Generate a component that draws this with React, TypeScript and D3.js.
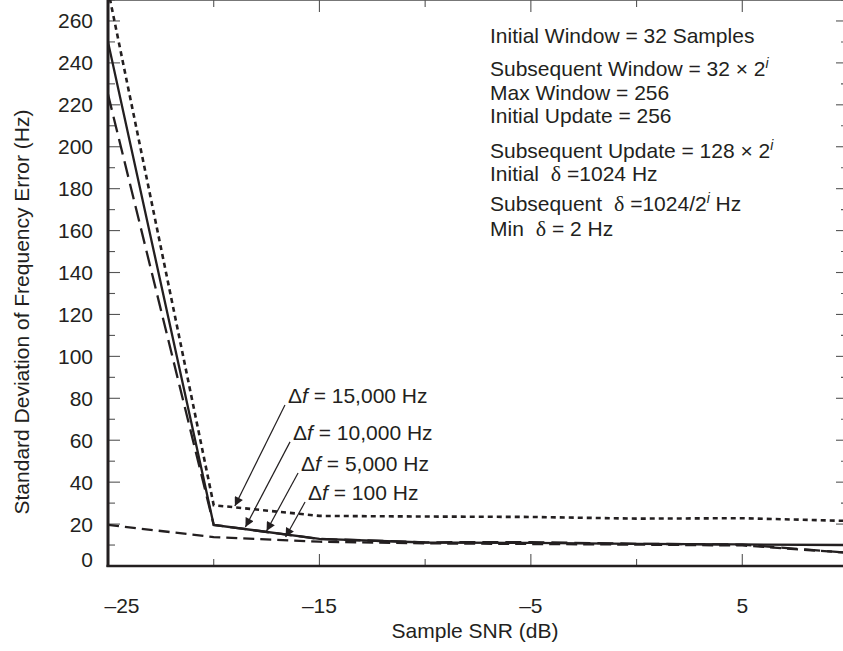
import * as d3 from "d3";

// sample SNR (dB) and the std. deviation of the frequency error (Hz) per frequency offset
const snr = [-25, -20, -15, -10, -5, 0, 5, 10];
const df15000 = [275, 29, 23.9, 23.6, 23.4, 22.6, 22.8, 21.5];
const df10000 = [250, 19.6, 12.9, 11.2, 11, 10.6, 10.3, 10];
const df5000 = [225, 19.6, 12.9, 11.3, 11.4, 10.6, 10.2, 6.3];
const df100 = [19.6, 13.8, 11.6, 10.8, 10.5, 10.2, 9.8, 6.3];

const xLabelTicks = [-25, -15, -5, 5];
const xMinorTicks = [-20, -10, 0, 10];
const yLabelTicks = d3.range(0, 261, 20);
const yMinorTicks = d3.range(10, 271, 20);

// arrow labels: tail (text anchor) and tip, in data units
const arrowLabels = ["15,000", "10,000", "5,000", "100"];
const arrowTail = [[-16.63, 76.8], [-16.39, 59.2], [-16.01, 44.4], [-15.68, 30.5]];
const arrowTip = [[-19.0, 28.6], [-18.5, 18.6], [-17.5, 16.7], [-16.6, 13.8]];

const W = 843;
const H = 651;
const left = 108;
const right = 848;
const top = 0;
const bottom = 566;
const ink = "#231f20";
const font = "'Liberation Sans', Arial, Helvetica, sans-serif";

export default function App() {
  const x = d3.scaleLinear().domain([-25, 10]).range([left, right]);
  const y = d3.scaleLinear().domain([0, 270]).range([bottom, top]);

  const line = d3
    .line<number>()
    .x((_, i) => x(snr[i]))
    .y((d) => y(d));

  const series = [
    { values: df15000, dash: "5,4", width: 2.6 },
    { values: df10000, dash: null, width: 2.3 },
    { values: df5000, dash: "16,7", width: 2.3 },
    { values: df100, dash: "11,6", width: 2.3 },
  ];

  const sup = (t: string) => (
    <tspan dy={-8} fontSize={14} fontStyle="italic">
      {t}
    </tspan>
  );
  const delta = (
    <tspan fontFamily="'Liberation Serif', 'DejaVu Serif', serif" fontSize={22} dx={6}>
      δ
    </tspan>
  );

  return (
    <svg
      width={W}
      height={H}
      style={{ position: "absolute", left: 0, top: 0, background: "#fff" }}
      fontFamily={font}
      fill={ink}
    >
      <defs>
        <clipPath id="plot">
          <rect x={left} y={top} width={right - left} height={bottom - top} />
        </clipPath>
        <marker
          id="head"
          viewBox="0 0 10 10"
          refX="10"
          refY="5"
          markerWidth="16"
          markerHeight="9"
          markerUnits="userSpaceOnUse"
          orient="auto"
        >
          <path d="M0,0 L10,5 L0,10 Z" fill={ink} />
        </marker>
      </defs>

      {/* frame */}
      <line x1={left} x2={right} y1={0.5} y2={0.5} stroke="#777" strokeWidth={1.2} />

      {/* x ticks, bottom and top */}
      {xLabelTicks.concat(xMinorTicks).map((t) => {
        const major = xLabelTicks.includes(t);
        const len = major ? 12 : 7;
        return (
          <g key={"xt" + t} stroke="#555" strokeWidth={1.1}>
            <line x1={x(t)} x2={x(t)} y1={bottom} y2={bottom - len} />
            <line x1={x(t)} x2={x(t)} y1={0} y2={len} />
          </g>
        );
      })}

      {/* y ticks, left and right */}
      {yLabelTicks.concat(yMinorTicks).map((t) => {
        const major = yLabelTicks.includes(t);
        const len = major ? 12 : 7;
        return (
          <g key={"yt" + t} stroke="#555" strokeWidth={1.1}>
            <line x1={left} x2={left + len} y1={y(t)} y2={y(t)} />
            <line x1={right} x2={right - len} y1={y(t)} y2={y(t)} />
          </g>
        );
      })}

      {/* series */}
      <g clipPath="url(#plot)">
        {series.map((s, i) => (
          <path
            key={i}
            d={line(s.values) || ""}
            fill="none"
            stroke={ink}
            strokeWidth={s.width}
            strokeDasharray={s.dash || undefined}
            strokeLinejoin="miter"
          />
        ))}
      </g>

      {/* main axes */}
      <line x1={left} x2={left} y1={0} y2={bottom + 1} stroke={ink} strokeWidth={3} />
      <line x1={left - 1.5} x2={right} y1={bottom} y2={bottom} stroke={ink} strokeWidth={2.6} />

      {/* tick labels */}
      {yLabelTicks.map((t) => (
        <text
          key={"yl" + t}
          x={93}
          y={y(t) - (t === 0 ? 7 : 0)}
          textAnchor="end"
          dominantBaseline="central"
          fontSize={21}
        >
          {t}
        </text>
      ))}
      {xLabelTicks.map((t, i) => (
        <text
          key={"xl" + t}
          x={i === 0 ? x(t) + 14 : x(t)}
          y={613}
          textAnchor="middle"
          fontSize={21}
        >
          {t < 0 ? "\u2013" + Math.abs(t) : t}
        </text>
      ))}

      {/* axis titles */}
      <text x={475} y={638} textAnchor="middle" fontSize={21}>
        Sample SNR (dB)
      </text>
      <text
        transform="translate(29,312) rotate(-90)"
        textAnchor="middle"
        fontSize={21}
      >
        Standard Deviation of Frequency Error (Hz)
      </text>

      {/* arrows with labels */}
      {arrowLabels.map((lab, i) => {
        const tx = x(arrowTail[i][0]);
        const ty = y(arrowTail[i][1]);
        return (
          <g key={"ar" + i}>
            <line
              x1={tx}
              y1={ty}
              x2={x(arrowTip[i][0])}
              y2={y(arrowTip[i][1])}
              stroke={ink}
              strokeWidth={1.2}
              markerEnd="url(#head)"
            />
            <text x={tx + 3} y={ty - 2} fontSize={21}>
              Δ<tspan fontStyle="italic">f</tspan> = {lab} Hz
            </text>
          </g>
        );
      })}

      {/* parameter block */}
      <g fontSize={21}>
        <text x={490} y={43}>Initial Window = 32 Samples</text>
        <text x={490} y={76}>
          Subsequent Window = 32 × 2{sup("i")}
        </text>
        <text x={490} y={100}>Max Window = 256</text>
        <text x={490} y={123}>Initial Update = 256</text>
        <text x={490} y={158}>
          Subsequent Update = 128 × 2{sup("i")}
        </text>
        <text x={490} y={181}>
          Initial {delta} =1024 Hz
        </text>
        <text x={490} y={211}>
          Subsequent {delta} =1024/2{sup("i")}
          <tspan dy={8}> Hz</tspan>
        </text>
        <text x={490} y={236}>
          Min {delta} = 2 Hz
        </text>
      </g>
    </svg>
  );
}
